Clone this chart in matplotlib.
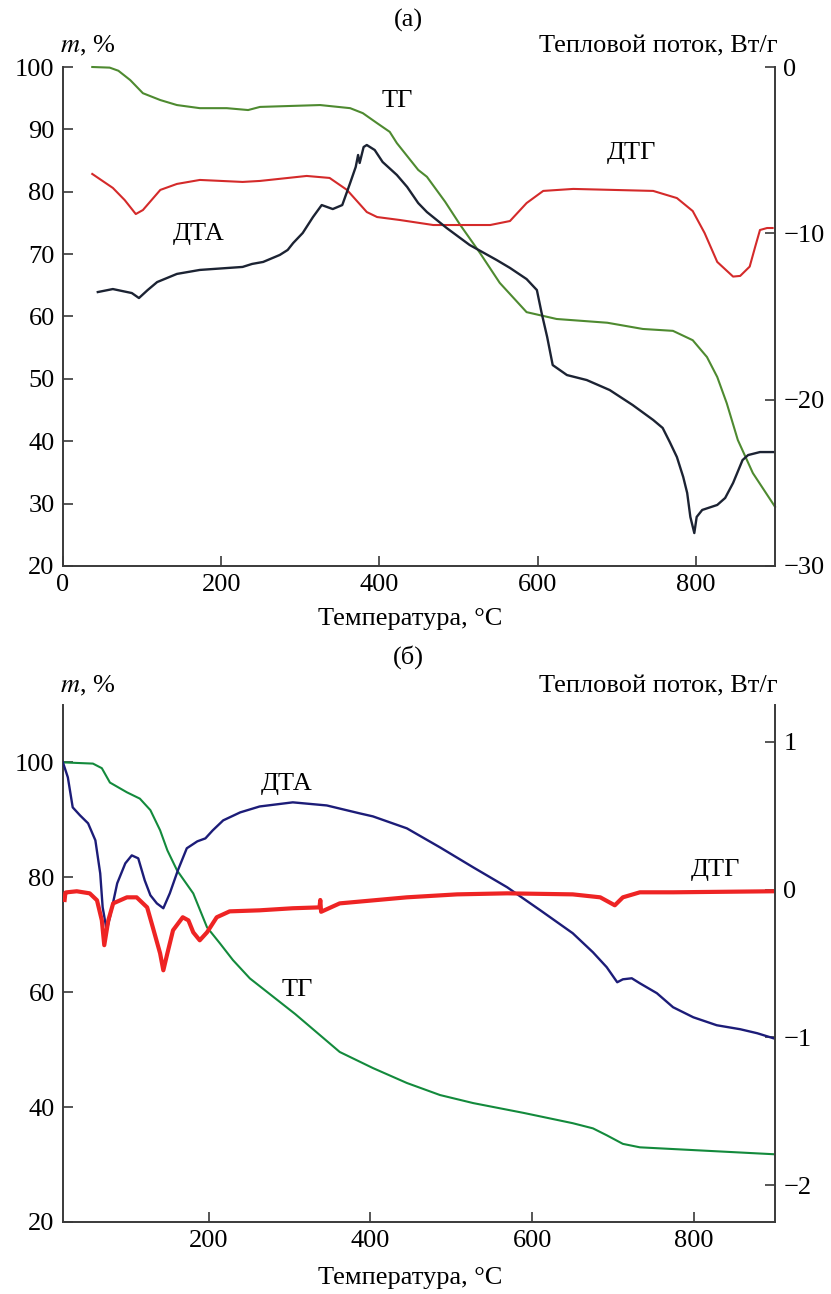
import matplotlib.pyplot as plt
import numpy as np

plt.rcParams['font.family'] = ['Liberation Serif', 'DejaVu Serif']
plt.rcParams['mathtext.fontset'] = 'stix'
plt.rcParams['axes.unicode_minus'] = True

# --- panel (а): temperature, mass (%), heat flow (W/g) ---
tg_a_t = [37, 59, 70, 85, 101, 123, 144, 173, 207, 234, 249, 274, 325, 363, 379, 397, 413, 422,
          449, 460, 483, 502, 527, 552, 586, 624, 688, 733, 771, 796, 814, 827, 839, 853, 872, 900]
tg_a_m = [100.0, 99.9, 99.4, 97.9, 95.8, 94.7, 93.9, 93.4, 93.4, 93.1, 93.6, 93.7, 93.9, 93.4, 92.6,
          91.0, 89.6, 87.8, 83.5, 82.4, 78.4, 74.7, 70.2, 65.4, 60.7, 59.6, 59.0, 58.0, 57.7, 56.2,
          53.5, 50.3, 46.1, 40.2, 34.9, 29.5]

dtg_a_t = [37, 63, 78, 92, 101, 123, 144, 173, 227, 249, 308, 337, 359, 384, 397, 426, 468, 540,
           565, 586, 607, 645, 746, 776, 796, 811, 827, 847, 856, 868, 875, 881, 890, 897]
dtg_a_h = [-6.43, -7.27, -8.0, -8.84, -8.6, -7.39, -7.03, -6.79, -6.91, -6.85, -6.55, -6.67, -7.39,
           -8.72, -9.02, -9.2, -9.5, -9.5, -9.26, -8.18, -7.45, -7.33, -7.45, -7.88, -8.66, -9.98,
           -11.72, -12.6, -12.56, -12.0, -10.8, -9.8, -9.68, -9.68]

dta_a_t = [44, 63, 87, 96, 107, 119, 144, 173, 227, 239, 253, 274, 284, 291, 303, 316, 327, 341,
           353, 363, 370, 373, 375, 380, 384, 394, 404, 422, 435, 449, 460, 485, 514, 548, 565,
           586, 599, 605, 612, 619, 637, 662, 691, 720, 746, 758, 767, 776, 784, 789, 793, 798,
           801, 808, 827, 837, 847, 859, 866, 881, 900]
dta_a_h = [-13.53, -13.35, -13.59, -13.89, -13.41, -12.93, -12.44, -12.20, -12.02, -11.84, -11.72,
           -11.30, -11.0, -10.58, -9.98, -9.02, -8.30, -8.54, -8.30, -6.97, -6.01, -5.29, -5.77,
           -4.81, -4.69, -4.99, -5.71, -6.49, -7.21, -8.18, -8.72, -9.68, -10.70, -11.60, -12.08,
           -12.75, -13.41, -14.79, -16.23, -17.92, -18.52, -18.82, -19.42, -20.32, -21.22, -21.70,
           -22.55, -23.45, -24.65, -25.61, -27.05, -28.02, -27.05, -26.63, -26.33, -25.91, -25.01,
           -23.63, -23.33, -23.15, -23.15]

# --- panel (б) ---
tg_b_t = [22, 57, 68, 78, 99, 115, 128, 140, 149, 161, 181, 198, 214, 230, 251, 307, 362, 403, 445,
          486, 527, 589, 650, 675, 692, 712, 733, 774, 898]
tg_b_m = [100.0, 99.8, 99.0, 96.5, 94.8, 93.7, 91.7, 88.2, 84.7, 81.2, 77.2, 71.3, 68.5, 65.6, 62.4,
          56.2, 49.6, 46.8, 44.2, 42.1, 40.7, 39.0, 37.2, 36.3, 35.1, 33.6, 33.0, 32.7, 31.8]

dta_b_t = [20, 26, 32, 41, 51, 60, 66, 69, 74, 78, 87, 97, 105, 113, 121, 128, 136, 144, 152, 162,
           173, 186, 196, 205, 218, 239, 263, 304, 346, 387, 403, 445, 486, 527, 569, 610, 650,
           675, 692, 705, 712, 723, 733, 754, 774, 799, 828, 857, 878, 898]
dta_b_h = [0.86, 0.76, 0.557, 0.503, 0.449, 0.334, 0.110, -0.119, -0.275, -0.187, 0.043, 0.178,
           0.232, 0.212, 0.063, -0.038, -0.093, -0.126, -0.025, 0.131, 0.280, 0.327, 0.347, 0.401,
           0.469, 0.523, 0.563, 0.591, 0.570, 0.516, 0.496, 0.415, 0.286, 0.151, 0.016, -0.140,
           -0.295, -0.424, -0.525, -0.627, -0.607, -0.600, -0.634, -0.701, -0.796, -0.864, -0.918,
           -0.945, -0.972, -1.006]

dtg_b_t = [22, 23, 25, 37, 53, 62, 68, 71, 76, 82, 99, 111, 124, 131, 140, 144, 149, 156, 168, 175,
           181, 189, 198, 210, 226, 263, 304, 337, 338, 339, 362, 445, 507, 569, 650, 684, 702, 712,
           733, 774, 898]
dtg_b_h = [-0.07, -0.02, -0.018, -0.011, -0.025, -0.072, -0.208, -0.376, -0.208, -0.093, -0.052,
           -0.052, -0.120, -0.255, -0.431, -0.546, -0.431, -0.275, -0.187, -0.208, -0.289, -0.343,
           -0.289, -0.187, -0.147, -0.140, -0.126, -0.120, -0.07, -0.15, -0.093, -0.052, -0.032,
           -0.025, -0.032, -0.052, -0.106, -0.052, -0.018, -0.018, -0.011]

FS = 19
W, H = 831, 1294
fig = plt.figure(figsize=(W / 100, H / 100), dpi=100)


def px(x, y):
    return x / W, 1 - y / H


def style(ax):
    ax.spines['top'].set_visible(False)
    for s in ['left', 'right', 'bottom']:
        ax.spines[s].set_color('#3a3a3a')
        ax.spines[s].set_linewidth(1.4)
    ax.tick_params(direction='in', length=7, width=1.2, color='#3a3a3a',
                   labelsize=FS, pad=6, top=False)


# top panel
ax1 = fig.add_axes([63 / W, 1 - 566 / H, 712 / W, 499 / H])
ax1r = ax1.twinx()
ax1.plot(tg_a_t, tg_a_m, color='#4e8a30', lw=1.5, clip_on=False)
ax1r.plot(dtg_a_t, dtg_a_h, color='#d42a2a', lw=1.5)
ax1r.plot(dta_a_t, dta_a_h, color='#1c2333', lw=1.7)
ax1.set_xlim(0, 900)
ax1.set_ylim(20, 100)
ax1r.set_ylim(-30, 0)
ax1.set_xticks([0, 200, 400, 600, 800])
ax1.set_yticks([20, 30, 40, 50, 60, 70, 80, 90, 100])
ax1r.set_yticks([-30, -20, -10, 0])
style(ax1)
style(ax1r)
ax1r.spines['left'].set_visible(False)
ax1r.spines['bottom'].set_visible(False)
ax1.spines['right'].set_visible(False)
ax1.text(422, 94.5, 'ТГ', fontsize=FS, ha='center', va='center')
ax1.text(718, 86.2, 'ДТГ', fontsize=FS, ha='center', va='center')
ax1.text(172, 73.2, 'ДТА', fontsize=FS, ha='center', va='center')

# bottom panel
ax2 = fig.add_axes([63 / W, 1 - 1222 / H, 712 / W, 517 / H])
ax2r = ax2.twinx()
ax2.plot(tg_b_t, tg_b_m, color='#138a3c', lw=1.5)
ax2r.plot(dta_b_t, dta_b_h, color='#1c1c78', lw=1.7)
ax2r.plot(dtg_b_t, dtg_b_h, color='#ee2424', lw=3.0)
ax2.set_xlim(20, 900)
ax2.set_ylim(20, 110)
ax2r.set_ylim(-2.25, 1.25)
ax2.set_xticks([200, 400, 600, 800])
ax2.set_yticks([20, 40, 60, 80, 100])
ax2r.set_yticks([-2, -1, 0, 1])
style(ax2)
style(ax2r)
ax2r.spines['left'].set_visible(False)
ax2r.spines['bottom'].set_visible(False)
ax2.spines['right'].set_visible(False)
ax2.text(296, 96.2, 'ДТА', fontsize=FS, ha='center', va='center')
ax2.text(309, 60.3, 'ТГ', fontsize=FS, ha='center', va='center')
ax2.text(826, 81.2, 'ДТГ', fontsize=FS, ha='center', va='center')

# headings and axis titles
fig.text(*px(408, 20), '(а)', fontsize=FS, ha='center', va='center')
fig.text(*px(60, 46), r'$m$, %', fontsize=FS, ha='left', va='center')
fig.text(*px(778, 46), 'Тепловой поток, Вт/г', fontsize=FS, ha='right', va='center')
fig.text(*px(410, 619), 'Температура, °C', fontsize=FS, ha='center', va='center')

fig.text(*px(408, 657), '(б)', fontsize=FS, ha='center', va='center')
fig.text(*px(60, 686), r'$m$, %', fontsize=FS, ha='left', va='center')
fig.text(*px(778, 686), 'Тепловой поток, Вт/г', fontsize=FS, ha='right', va='center')
fig.text(*px(410, 1278), 'Температура, °C', fontsize=FS, ha='center', va='center')

fig.savefig('out.png', dpi=100)
